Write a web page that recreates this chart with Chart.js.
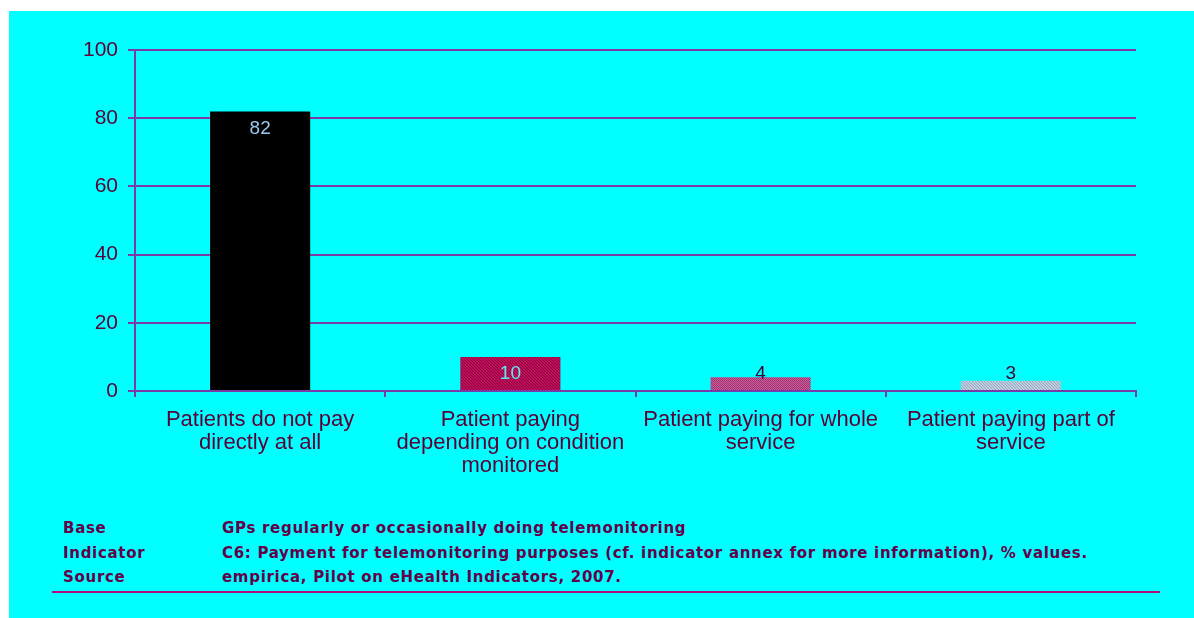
<!DOCTYPE html>
<html>
<head>
<meta charset="utf-8">
<script src="https://cdn.jsdelivr.net/npm/chart.js@4.4.0/dist/chart.umd.min.js"></script>
<style>
  html, body { margin: 0; padding: 0; background: #fff; }
  #panel { position: absolute; left: 9px; top: 11px; width: 1185px; height: 607px; background: #00ffff; }
  #wrap { position: absolute; left: 0; top: 0; width: 1194px; height: 480px; }
  .note { position: absolute; font-family: "DejaVu Sans", sans-serif; font-size: 15px; font-weight: bold; letter-spacing: 0.7px; color: #62004a; white-space: nowrap; }
  #rule { position: absolute; left: 52px; top: 591px; width: 1108px; height: 2px; background: #b0107a; }
</style>
</head>
<body>
<div id="panel"></div>
<div id="wrap"><canvas id="chart" width="1194" height="480"></canvas></div>
<div class="note" style="left:63px;top:519px">Base</div>
<div class="note" style="left:222px;top:519px">GPs regularly or occasionally doing telemonitoring</div>
<div class="note" style="left:63px;top:544px">Indicator</div>
<div class="note" style="left:222px;top:544px">C6: Payment for telemonitoring purposes (cf. indicator annex for more information), % values.</div>
<div class="note" style="left:63px;top:568px">Source</div>
<div class="note" style="left:222px;top:568px">empirica, Pilot on eHealth Indicators, 2007.</div>
<div id="rule"></div>
<script>
const categories = [
  ['Patients do not pay', 'directly at all'],
  ['Patient paying', 'depending on condition', 'monitored'],
  ['Patient paying for whole', 'service'],
  ['Patient paying part of', 'service']
];
const values = [82, 10, 4, 3];
const yTicks = [0, 20, 40, 60, 80, 100];

const textColor = '#5a0036';
const gridColor = '#7a3aa8';

function hatch(bg, fg, step) {
  const c = document.createElement('canvas');
  c.width = step; c.height = step;
  const g = c.getContext('2d');
  g.fillStyle = bg; g.fillRect(0, 0, step, step);
  g.fillStyle = fg;
  for (let i = 0; i < step; i++) g.fillRect(i, i, 1, 1);
  return g.createPattern(c, 'repeat');
}

const barColors = [
  '#000000',
  hatch('#c0105a', '#8a0040', 3),
  hatch('#c8609a', '#a03070', 2),
  hatch('#a8d8e0', '#c090b8', 3)
];
const labelColors = ['#9cc8f0', '#60e8f0', '#400030', '#400030'];

const barLabels = {
  id: 'barLabels',
  afterDatasetsDraw(chart) {
    const ctx = chart.ctx;
    const meta = chart.getDatasetMeta(0);
    ctx.save();
    ctx.font = '19px "Liberation Sans", Arial, sans-serif';
    ctx.textAlign = 'center';
    ctx.textBaseline = 'middle';
    meta.data.forEach((bar, i) => {
      const y = Math.min(bar.y + 17, bar.base - 16);
      ctx.fillStyle = labelColors[i];
      ctx.fillText(String(values[i]), bar.x, y);
    });
    ctx.restore();
  }
};

new Chart(document.getElementById('chart'), {
  type: 'bar',
  data: {
    labels: categories,
    datasets: [{
      data: values,
      backgroundColor: barColors,
      borderWidth: 0,
      categoryPercentage: 1,
      barPercentage: 0.4
    }]
  },
  options: {
    responsive: false,
    animation: false,
    layout: { padding: { left: 0, right: 58, top: 50, bottom: 0 } },
    plugins: { legend: { display: false }, tooltip: { enabled: false } },
    scales: {
      x: {
        grid: { offset: true, drawOnChartArea: false, color: gridColor, tickLength: 6, lineWidth: 2 },
        border: { color: gridColor, width: 2 },
        ticks: { color: textColor, padding: 11, maxRotation: 0, autoSkip: false,
          font: { family: '"Liberation Sans", Arial, sans-serif', size: 22, lineHeight: 1.05 } },
        afterFit(s) { s.height = 89; }
      },
      y: {
        min: 0, max: 100,
        afterBuildTicks(s) { s.ticks = yTicks.map(v => ({ value: v })); },
        grid: { color: gridColor, tickLength: 7, lineWidth: 2 },
        border: { color: gridColor, width: 2 },
        ticks: { color: textColor, padding: 10,
          font: { family: '"Liberation Sans", Arial, sans-serif', size: 21 } },
        afterFit(s) { s.width = 135; }
      }
    }
  },
  plugins: [barLabels]
});
</script>
</body>
</html>
